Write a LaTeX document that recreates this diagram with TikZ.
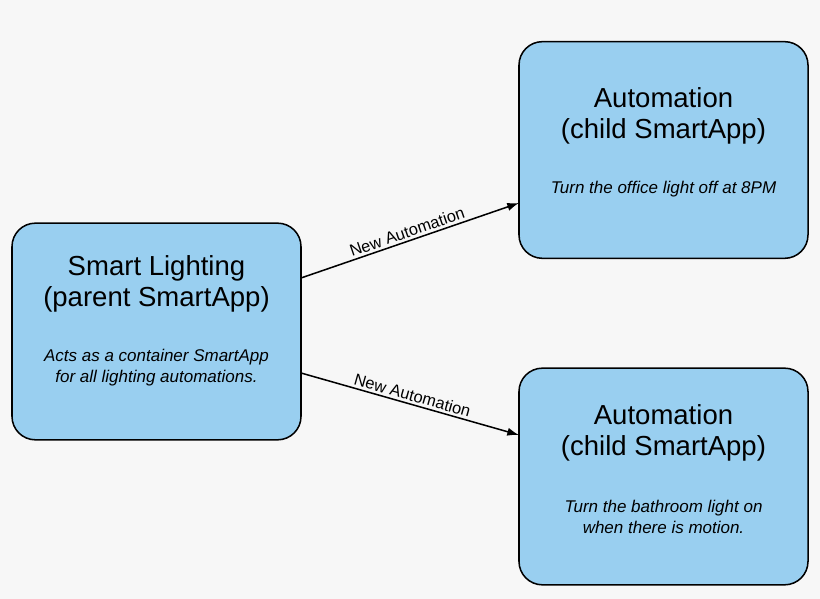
\documentclass[tikz,border=0pt]{standalone}
\usepackage{fontspec}
\setmainfont{Liberation Sans}
\usetikzlibrary{arrows.meta}
\definecolor{boxblue}{RGB}{153,207,240}
\definecolor{bg}{RGB}{247,247,247}
\begin{document}
\begin{tikzpicture}[x=0.03cm, y=0.03cm, >={Latex[length=10pt,width=7pt]},
    app/.style = {draw, line width = 1.3pt, fill = boxblue, rounded corners = 20,
                  minimum width = 8.67cm, minimum height = 6.5cm},
    title/.style = {align = center, font = \fontsize{23.5}{26.5}\selectfont},
    note/.style = {align = center, font = \fontsize{14.5}{17.5}\selectfont\itshape},
    lbl/.style = {sloped, above, inner sep = 2pt, font = \fontsize{14}{16}\selectfont}]
            \fill [bg] (0,0) rectangle (820,599);
            \useasboundingbox (0,0) rectangle (820,599);

            \node [app] (parent) at (156.5, 267.5) {};
            \node [app] (office) at (663.5, 449) {};
            \node [app] (bath) at (663.5, 122.5) {};

            \node [title] at (156.5, 315.5) {Smart Lighting\\(parent SmartApp)};
            \node [note] at (156.5, 231.5) {Acts as a container SmartApp\\for all lighting automations.};

            \node [title] at (663.5, 483) {Automation\\(child SmartApp)};
            \node [note] at (663.5, 410) {Turn the office light off at 8PM};

            \node [title] at (663.5, 166) {Automation\\(child SmartApp)};
            \node [note] at (663.5, 82) {Turn the bathroom light on\\when there is motion.};

            \coordinate (p1) at (301, 321);
            \coordinate (p2) at (301, 226);
            \coordinate (o1) at (519, 396);
            \coordinate (b1) at (519, 164);

            \draw [line width = 1.3pt, ->] (p1) -- node [lbl] {New Automation} (o1);
            \draw [line width = 1.3pt, ->] (p2) -- node [lbl] {New Automation} (b1);
        \end{tikzpicture}
\end{document}
